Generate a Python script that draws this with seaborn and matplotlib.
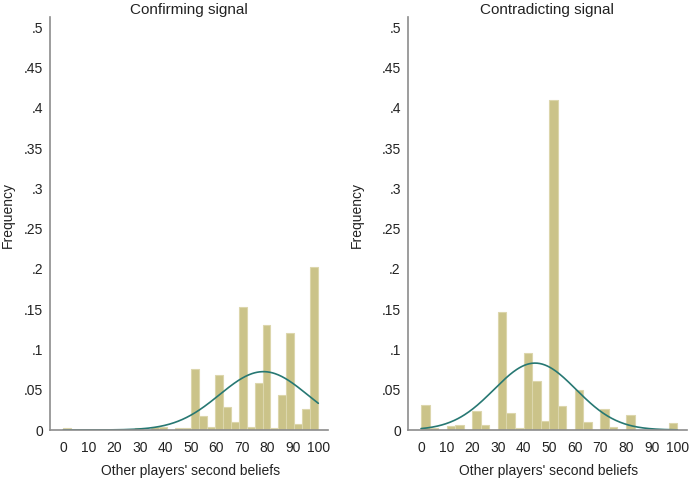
import numpy as np
import pandas as pd
import seaborn as sns
from matplotlib import pyplot as plt

# bar heights (fraction per bin)
confirm_bins = 32
confirm_freq = [0.002, 0, 0, 0, 0, 0, 0, 0, 0, 0.002, 0, 0.004, 0.004, 0, 0.002, 0.002,
                0.076, 0.018, 0.004, 0.068, 0.028, 0.010, 0.153, 0.004,
                0.058, 0.130, 0.002, 0.043, 0.121, 0.007, 0.026, 0.202]
contra_bins = 30
contra_freq = [0.031, 0.003, 0, 0.0055, 0.0066, 0, 0.024, 0.0066, 0, 0.147,
               0.0215, 0.003, 0.096, 0.061, 0.011, 0.410, 0.030, 0, 0.050, 0.0095,
               0, 0.0265, 0.004, 0, 0.019, 0, 0, 0, 0, 0.009]

# fitted normal overlay (mean, sd)
confirm_norm = (78.5, 17.2)
contra_norm = (44.5, 16.0)

titles = ["Confirming signal", "Contradicting signal"]
xlabel = "Other players' second beliefs"
ylabel = "Frequency"
xticks = list(range(0, 101, 10))
yticks = [0, 0.05, 0.1, 0.15, 0.2, 0.25, 0.3, 0.35, 0.4, 0.45, 0.5]
ytick_labels = ["0", ".05", ".1", ".15", ".2", ".25", ".3", ".35", ".4", ".45", ".5"]

sns.set_style("white")
plt.rcParams['font.family'] = ['Liberation Sans', 'DejaVu Sans']

bar_color = "#cbc389"
edge_color = "#dcd6ac"
line_color = "#277873"
axis_color = "#8c8c8c"
text_color = "#222222"

fig = plt.figure(figsize=(6.9, 4.83), dpi=100)
W, H = 690, 483
boxes = [(50, 328), (407.7, 687)]
ylabel_x = [15, 364]
top, bottom = 17, 430

panels = [(confirm_freq, confirm_bins, confirm_norm),
          (contra_freq, contra_bins, contra_norm)]

for i, (freq, nbins, (mu, sd)) in enumerate(panels):
    x0, x1 = boxes[i]
    ax = fig.add_axes([x0 / W, (H - bottom) / H, (x1 - x0) / W, (bottom - top) / H])
    width = 100 / nbins
    centers = (np.arange(nbins) + 0.5) * width
    df = pd.DataFrame({"value": centers, "freq": freq})
    sns.histplot(data=df, x="value", weights="freq", bins=nbins, binrange=(0, 100),
                 color=bar_color, edgecolor=edge_color, linewidth=0.8, alpha=1, ax=ax)
    grid = np.linspace(0, 100, 301)
    dens = width * np.exp(-(grid - mu) ** 2 / (2 * sd ** 2)) / (sd * np.sqrt(2 * np.pi))
    sns.lineplot(x=grid, y=dens, color=line_color, linewidth=1.2, ax=ax)

    ax.set_xlim(-5.2, 103.8)
    ax.set_ylim(0, 0.513)
    ax.set_xticks(xticks)
    ax.set_yticks(yticks)
    ax.set_yticklabels(ytick_labels)
    ax.tick_params(axis="both", direction="out", length=4, width=0.8,
                   color=axis_color, labelsize=10, labelcolor=text_color, pad=4)
    ax.tick_params(axis="y", pad=1)
    for side in ["top", "right"]:
        ax.spines[side].set_visible(False)
    for side in ["left", "bottom"]:
        ax.spines[side].set_color(axis_color)
        ax.spines[side].set_linewidth(1.2)

    ax.set_title(titles[i], fontsize=11, color=text_color, pad=2.5)
    ax.set_xlabel(xlabel, fontsize=10, color=text_color)
    ax.set_ylabel(ylabel, fontsize=10, color=text_color)
    ax.xaxis.set_label_coords(0.505, -0.083)
    ax.yaxis.set_label_coords((ylabel_x[i] - x0) / (x1 - x0), 0.52)

plt.savefig("out.png", dpi=100)
